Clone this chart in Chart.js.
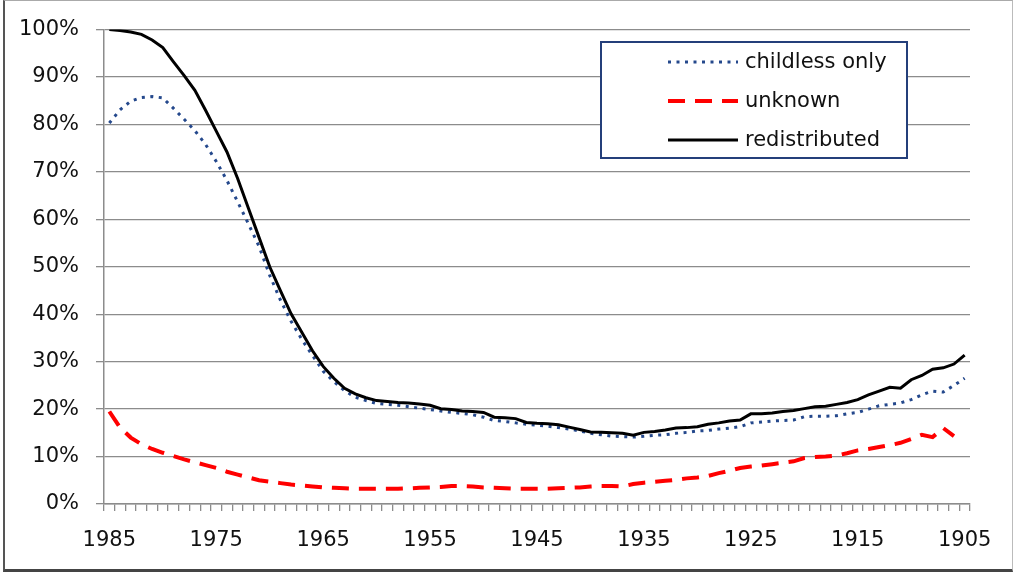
<!DOCTYPE html>
<html>
<head>
<meta charset="utf-8">
<script src="https://cdn.jsdelivr.net/npm/chart.js@4.4.0/dist/chart.umd.min.js"></script>
<style>
  html, body { margin: 0; padding: 0; background: #fff; }
  #wrap { position: relative; width: 1013px; height: 574px; }
  #frame { position: absolute; left: 3px; top: 0; width: 1007px; height: 568px;
           border-left: 2px solid #555; border-bottom: 3px solid #444;
           border-top: 1px solid #aaa; border-right: 1px solid #bbb; pointer-events: none; }
</style>
</head>
<body>
<div id="wrap"><canvas id="chart"></canvas><div id="frame"></div></div>
<script>
// birth cohorts, newest first (the axis runs backwards like the original)
const years = [
  1985, 1984, 1983, 1982, 1981, 1980, 1979, 1978, 1977, 1976,
  1975, 1974, 1973, 1972, 1971, 1970, 1969, 1968, 1967, 1966,
  1965, 1964, 1963, 1962, 1961, 1960, 1959, 1958, 1957, 1956,
  1955, 1954, 1953, 1952, 1951, 1950, 1949, 1948, 1947, 1946,
  1945, 1944, 1943, 1942, 1941, 1940, 1939, 1938, 1937, 1936,
  1935, 1934, 1933, 1932, 1931, 1930, 1929, 1928, 1927, 1926,
  1925, 1924, 1923, 1922, 1921, 1920, 1919, 1918, 1917, 1916,
  1915, 1914, 1913, 1912, 1911, 1910, 1909, 1908, 1907, 1906,
  1905
];
const yearLabels = ['1985', '1975', '1965', '1955', '1945', '1935', '1925', '1915', '1905'];

const childlessOnly = [
  80.3, 83.1, 84.9, 85.7, 85.9, 85.6, 83.4, 81.1, 78.7, 75.8,
  72.2, 68.2, 63.7, 59.1, 54.3, 48.2, 43.0, 38.5, 34.7, 31.3,
  28.0, 25.8, 23.9, 22.5, 21.8, 21.2, 21.0, 20.8, 20.5, 20.2,
  19.9, 19.6, 19.3, 19.1, 18.8, 18.3, 17.6, 17.4, 17.1, 16.8,
  16.6, 16.4, 16.1, 15.8, 15.4, 14.9, 14.6, 14.3, 14.2, 14.1,
  14.3, 14.5, 14.6, 14.9, 15.1, 15.4, 15.5, 15.8, 16.0, 16.3,
  17.1, 17.3, 17.5, 17.6, 17.7, 18.4, 18.5, 18.5, 18.6, 19.0,
  19.3, 20.0, 20.7, 21.0, 21.3, 22.0, 23.0, 23.8, 23.6, 25.0,
  26.5
];
const unknown = [
  19.5, 16.1, 14.0, 12.6, 11.6, 10.8, 10.1, 9.4, 8.8, 8.2,
  7.6, 6.8, 6.2, 5.6, 5.0, 4.7, 4.4, 4.1, 3.9, 3.7,
  3.5, 3.4, 3.3, 3.2, 3.2, 3.2, 3.2, 3.2, 3.3, 3.4,
  3.5, 3.6, 3.8, 3.8, 3.7, 3.5, 3.4, 3.3, 3.2, 3.2,
  3.2, 3.2, 3.3, 3.4, 3.5, 3.7, 3.8, 3.8, 3.7, 4.2,
  4.5, 4.7, 4.9, 5.1, 5.4, 5.6, 5.9, 6.5, 7.0, 7.6,
  7.9, 8.1, 8.4, 8.7, 9.0, 9.7, 9.9, 10.0, 10.2, 10.7,
  11.3, 11.6, 12.0, 12.4, 12.9, 13.7, 14.6, 14.1, 16.0, 14.3,
  null
];
const redistributed = [
  100, 99.8, 99.5, 99.0, 97.8, 96.2, 93.2, 90.3, 87.2, 83.0,
  78.6, 74.2, 68.6, 62.4, 56.2, 50.0, 45.0, 40.1, 36.2, 32.3,
  29.0, 26.5, 24.4, 23.2, 22.4, 21.8, 21.6, 21.4, 21.3, 21.1,
  20.8, 20.1, 19.9, 19.6, 19.5, 19.3, 18.3, 18.2, 18.0, 17.2,
  17.0, 16.9, 16.7, 16.2, 15.7, 15.2, 15.1, 15.0, 14.9, 14.5,
  15.1, 15.3, 15.6, 16.0, 16.1, 16.3, 16.8, 17.1, 17.5, 17.7,
  19.0, 19.0, 19.2, 19.5, 19.7, 20.1, 20.5, 20.6, 21.0, 21.4,
  22.0, 23.0, 23.8, 24.6, 24.4, 26.2, 27.1, 28.4, 28.7, 29.5,
  31.4
];

const gridGray = '#8c8c8c';
Chart.defaults.font.family = "'DejaVu Sans', sans-serif";
Chart.defaults.font.size = 21;
Chart.defaults.color = '#111';

// excel-like legend box, drawn by hand
const boxLegend = {
  id: 'boxLegend',
  afterDraw(chart) {
    const c = chart.ctx;
    const box = { x: 601, y: 42, w: 306, h: 116 };
    const rows = [62, 101, 140];
    c.save();
    c.fillStyle = '#fff';
    c.fillRect(box.x, box.y, box.w, box.h);
    c.strokeStyle = '#243f7a';
    c.lineWidth = 2;
    c.strokeRect(box.x, box.y, box.w, box.h);
    chart.data.datasets.forEach((ds, i) => {
      c.beginPath();
      c.setLineDash(ds.borderDash || []);
      c.strokeStyle = ds.borderColor;
      c.lineWidth = ds.borderWidth;
      c.moveTo(668, rows[i]);
      c.lineTo(738, rows[i]);
      c.stroke();
      c.setLineDash([]);
      c.fillStyle = '#111';
      c.font = "21px 'DejaVu Sans', sans-serif";
      c.textBaseline = 'middle';
      c.textAlign = 'left';
      c.fillText(ds.label, 745, rows[i] + 1);
    });
    c.restore();
  }
};

new Chart(document.getElementById('chart'), {
  type: 'line',
  data: {
    labels: years,
    datasets: [{
      label: 'childless only',
      data: childlessOnly,
      borderColor: '#24488c',
      borderWidth: 3,
      borderDash: [3, 5.5],
      order: 2
    }, {
      label: 'unknown',
      data: unknown,
      borderColor: '#ff0000',
      borderWidth: 4,
      borderDash: [17, 10],
      order: 1
    }, {
      label: 'redistributed',
      data: redistributed,
      borderColor: '#000',
      borderWidth: 3,
      order: 0
    }]
  },
  options: {
    responsive: true,
    maintainAspectRatio: false,
    animation: false,
    layout: { padding: { top: 28, right: 43, bottom: 0, left: 0 } },
    elements: { point: { radius: 0 }, line: { tension: 0 } },
    plugins: { legend: { display: false }, tooltip: { enabled: false } },
    scales: {
      x: {
        offset: true,
        grid: { offset: true, drawOnChartArea: false, color: gridGray, tickLength: 7, lineWidth: 1.3 },
        border: { color: gridGray, width: 1.5 },
        ticks: {
          autoSkip: false,
          maxRotation: 0,
          padding: 17,
          callback: function (v) {
            const y = String(this.getLabelForValue(v));
            return yearLabels.includes(y) ? y : '';
          }
        },
        afterFit: s => { s.height = 70; }
      },
      y: {
        min: 0,
        max: 100,
        grid: { color: gridGray, tickLength: 8, lineWidth: 1.3 },
        border: { color: gridGray, width: 1.5 },
        ticks: { stepSize: 10, padding: 17, callback: v => v + '%' },
        afterFit: s => { s.width = 104; }
      }
    }
  },
  plugins: [boxLegend]
});
</script>
</body>
</html>
